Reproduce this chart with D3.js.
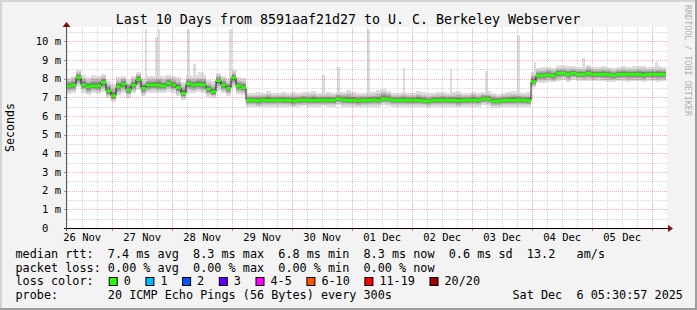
<!DOCTYPE html>
<html>
<head>
<meta charset="utf-8">
<script src="https://cdn.jsdelivr.net/npm/d3@7"></script>
<style>
  body { margin: 0; background: #fff; }
  svg { display: block; }
  text { font-family: "DejaVu Sans Mono", monospace; white-space: pre; }
</style>
</head>
<body>
<div id="graph"></div>
<script>
// ---- data ----
const title = "Last 10 Days from 8591aaf21d27 to U. C. Berkeley Webserver";
const startTime = Date.UTC(2025, 10, 26, 5, 30, 57);
const endTime = Date.UTC(2025, 11, 6, 5, 30, 57);
const stepHours = 2;

// median rtt per 2h step (ms)
const median = [
  7.60,7.66,8.07,7.66,7.57,7.62,7.62,7.80,7.34,7.09,
  7.57,7.71,7.39,7.66,7.96,7.48,7.66,7.66,7.66,7.62,
  7.75,7.66,7.52,7.21,7.73,7.66,7.70,7.66,7.44,7.30,
  7.90,7.66,7.48,8.05,7.62,7.52,
  6.84,6.84,6.82,6.86,6.84,6.84,6.86,6.84,6.84,6.82,
  6.84,6.86,6.84,6.84,6.84,6.86,6.84,6.84,6.93,6.86,
  6.84,6.84,6.82,6.84,6.84,6.86,6.84,6.93,6.90,6.84,
  6.84,6.86,6.84,6.84,6.84,6.82,6.79,6.84,6.84,6.86,
  6.84,6.84,6.82,6.84,6.84,6.86,6.84,6.93,6.90,6.80,
  6.80,6.84,6.84,6.84,6.86,6.84,6.82,
  7.84,
  8.16,8.18,8.20,8.16,8.29,8.29,8.23,8.29,8.23,8.23,
  8.29,8.23,8.23,8.23,8.23,8.18,8.23,8.23,8.23,8.23,
  8.23,8.20,8.23,8.23,8.23,8.23
];
// smoke extent above / below the median per step (ms)
const smokeUp = [
  0.45,0.50,0.40,0.55,0.50,0.60,0.55,0.45,0.55,0.60,
  0.50,0.45,0.55,0.50,0.40,0.55,0.50,0.50,0.55,0.50,
  0.45,0.50,0.55,0.60,0.45,0.50,0.50,0.55,0.50,0.55,
  0.40,0.50,0.55,0.40,0.45,0.50,
  0.40,0.42,0.45,0.40,0.50,0.42,0.40,0.45,0.42,0.48,
  0.40,0.42,0.45,0.50,0.42,0.40,0.45,0.42,0.38,0.45,
  0.55,0.45,0.42,0.40,0.45,0.42,0.55,0.50,0.45,0.40,
  0.42,0.45,0.40,0.42,0.50,0.45,0.42,0.40,0.45,0.42,
  0.40,0.45,0.50,0.42,0.40,0.45,0.40,0.38,0.42,0.45,
  0.40,0.42,0.45,0.50,0.42,0.40,0.45,
  0.50,
  0.40,0.42,0.45,0.40,0.38,0.42,0.45,0.40,0.42,0.40,
  0.45,0.42,0.40,0.45,0.42,0.40,0.42,0.45,0.40,0.42,
  0.45,0.50,0.42,0.40,0.45,0.42
];
const smokeDown = [
  0.40,0.45,0.50,0.40,0.45,0.40,0.45,0.50,0.40,0.35,
  0.45,0.50,0.40,0.45,0.55,0.40,0.45,0.40,0.45,0.40,
  0.45,0.40,0.45,0.35,0.50,0.45,0.40,0.45,0.40,0.35,
  0.55,0.45,0.40,0.50,0.45,0.40,
  0.35,0.34,0.36,0.35,0.33,0.35,0.36,0.34,0.35,0.36,
  0.35,0.34,0.35,0.36,0.35,0.34,0.33,0.35,0.36,0.35,
  0.34,0.35,0.36,0.35,0.34,0.35,0.36,0.35,0.34,0.35,
  0.36,0.35,0.34,0.35,0.36,0.35,0.34,0.35,0.36,0.35,
  0.34,0.35,0.36,0.35,0.34,0.35,0.36,0.35,0.34,0.35,
  0.36,0.35,0.34,0.35,0.36,0.35,0.34,
  0.30,
  0.38,0.40,0.38,0.36,0.40,0.38,0.40,0.38,0.36,0.38,
  0.40,0.38,0.36,0.38,0.40,0.38,0.38,0.36,0.40,0.38,
  0.38,0.40,0.36,0.38,0.40,0.38
];
// single slow pings: [hours after start, top in ms]
const spikes = [
  [31.5,10.66],[35.7,10.25],[36.7,10.66],[48.5,10.66],[50.8,8.77],
  [52.8,8.37],[54.0,8.37],[65.3,10.66],[67.5,8.46],[102.4,8.2],
  [108.5,8.64],[120.4,10.66],[134.7,8.55],[153.5,8.5],[167.7,8.41],
  [180.4,10.34],[187.0,8.9],[206.4,9.09],[226.4,8.7],[235.6,8.9]
];
const yMax = 10.77;
const yTicks = [0,1,2,3,4,5,6,7,8,9,10];

const legendRtt  = "median rtt:  7.4 ms avg  8.3 ms max  6.8 ms min  8.3 ms now  0.6 ms sd  13.2   am/s";
const legendLoss = "packet loss: 0.00 % avg  0.00 % max  0.00 % min  0.00 % now";
const lossLabels = ["0","1","2","3","4-5","6-10","11-19","20/20"];
const lossColors = ["#26ff00","#00b8ff","#0059ff","#5e00ff","#ff00ff","#ff5500","#ff0000","#a10000"];
const probeText = "probe:       20 ICMP Echo Pings (56 Bytes) every 300s";
const stampText = "Sat Dec  6 05:30:57 2025";

// ---- layout ----
const W = 697, H = 310;
const L = 66, R = 666, T = 27, B = 228;
const charW = 7.1;

const x = d3.scaleUtc().domain([new Date(startTime), new Date(endTime)]).range([L, R]);
const y = d3.scaleLinear().domain([0, yMax]).range([B, T]);
const stepT = i => new Date(startTime + i * stepHours * 3600e3);
const hourT = h => new Date(startTime + h * 3600e3);

const svg = d3.select("#graph").append("svg").attr("width", W).attr("height", H);

svg.append("rect").attr("width", W).attr("height", H).attr("fill", "#f3f3f3");
svg.append("path").attr("d", `M0,0H${W}V2H2V${H}H0Z`).attr("fill", "#d4d4d4");
svg.append("path").attr("d", `M${W},${H}H0V${H-2}H${W-2}V0H${W}Z`).attr("fill", "#9e9e9e");
svg.append("rect").attr("x", L).attr("y", T).attr("width", R - L + 1).attr("height", B - T).attr("fill", "#fff");

// ---- smoke ----
const frac = [0.03,0.08,0.14,0.2,0.27,0.35,0.45,0.57,0.72,1];
function ping(i, k) { // k = 1..20
  if (k > 10) return median[i] + smokeUp[i] * frac[k - 11];
  return median[i] - smokeDown[i] * frac[10 - k];
}
const grey = k => { const v = 50 + Math.floor(19 * Math.abs(10 - k)); return `rgb(${v},${v},${v})`; };
const smoke = svg.append("g").attr("shape-rendering", "crispEdges");
median.forEach((m, i) => {
  const x0 = x(stepT(i)), x1 = Math.min(x(stepT(i + 1)), R);
  // upper bands, outermost first
  for (let k = 19; k >= 10; k--) {
    smoke.append("rect").attr("x", x0).attr("width", x1 - x0)
      .attr("y", y(ping(i, k + 1))).attr("height", y(ping(i, 10)) - y(ping(i, k + 1)))
      .attr("fill", grey(k));
  }
  for (let k = 1; k <= 9; k++) {
    smoke.append("rect").attr("x", x0).attr("width", x1 - x0)
      .attr("y", y(ping(i, 10))).attr("height", y(ping(i, k)) - y(ping(i, 10)))
      .attr("fill", grey(k));
  }
});
const spikeStep = h => Math.floor(h / stepHours);
smoke.selectAll(".spike").data(spikes).enter().append("rect")
  .attr("x", d => x(hourT(d[0])))
  .attr("width", d => x(hourT(d[0] + 1)) - x(hourT(d[0])))
  .attr("y", d => y(Math.min(d[1], yMax)))
  .attr("height", d => y(ping(spikeStep(d[0]), 19)) - y(Math.min(d[1], yMax)))
  .attr("fill", grey(19));

// ---- median ----
const stepPts = median.map((m, i) => [stepT(i), m]).concat([[stepT(median.length), median[median.length - 1]]]);
svg.append("path")
  .attr("d", d3.line().x(d => Math.min(x(d[0]), R)).y(d => y(d[1])).curve(d3.curveStepAfter)(stepPts))
  .attr("fill", "none").attr("stroke", "#202020").attr("stroke-width", 1);
svg.append("g").selectAll("rect").data(median).enter().append("rect")
  .attr("x", (d, i) => x(stepT(i)))
  .attr("width", (d, i) => Math.min(x(stepT(i + 1)), R) - x(stepT(i)))
  .attr("y", d => y(d) - 1.5).attr("height", 3)
  .attr("fill", lossColors[0]);

// ---- grid (drawn over data like rrdtool) ----
const px = v => Math.round(v) + 0.5;
const grid = svg.append("g").attr("stroke-dasharray", "1,1").attr("stroke-width", 1);
const minorY = d3.range(0.5, yMax, 0.5).filter(v => v % 1 !== 0);
grid.selectAll(".gy").data(minorY).enter().append("line")
  .attr("x1", L).attr("x2", R + 1).attr("y1", d => px(y(d))).attr("y2", d => px(y(d)))
  .attr("stroke", "rgba(160,160,160,0.45)");
const sixHours = d3.utcHour.every(6).range(new Date(startTime), new Date(endTime)).filter(d => d.getUTCHours() !== 0);
grid.selectAll(".gx").data(sixHours).enter().append("line")
  .attr("y1", T).attr("y2", B).attr("x1", d => px(x(d))).attr("x2", d => px(x(d)))
  .attr("stroke", "rgba(160,160,160,0.45)");
grid.selectAll(".my").data(yTicks.filter(v => v > 0)).enter().append("line")
  .attr("x1", L).attr("x2", R + 1).attr("y1", d => px(y(d))).attr("y2", d => px(y(d)))
  .attr("stroke", "rgba(255,0,0,0.32)");
const days = d3.utcDay.range(new Date(startTime), new Date(endTime));
grid.selectAll(".mx").data(days).enter().append("line")
  .attr("y1", T).attr("y2", B).attr("x1", d => px(x(d))).attr("x2", d => px(x(d)))
  .attr("stroke", "rgba(255,0,0,0.32)");

// ---- axes ----
const ax = svg.append("g");
ax.selectAll(".tx").data(days).enter().append("line")
  .attr("x1", d => px(x(d))).attr("x2", d => px(x(d))).attr("y1", B).attr("y2", B + 3)
  .attr("stroke", "rgba(255,0,0,0.6)");
ax.selectAll(".ty").data(yTicks).enter().append("line")
  .attr("x1", L - 2).attr("x2", L).attr("y1", d => px(y(d))).attr("y2", d => px(y(d)))
  .attr("stroke", "#999");
ax.append("line").attr("x1", L - 2).attr("x2", R + 3).attr("y1", B + 0.5).attr("y2", B + 0.5).attr("stroke", "#000");
ax.append("line").attr("x1", L + 0.5).attr("x2", L + 0.5).attr("y1", B + 3).attr("y2", T - 1).attr("stroke", "#555");
ax.append("path").attr("d", `M${R + 2},${B - 3}L${R + 7},${B + 0.5}L${R + 2},${B + 4}Z`).attr("fill", "#7f1010");
ax.append("path").attr("d", `M${L - 3.5},${T}L${L + 0.5},${T - 5}L${L + 4.5},${T}Z`).attr("fill", "#7f1010");

ax.selectAll(".yl").data(yTicks).enter().append("text")
  .attr("x", d => d === 0 ? 61 - 2 * 6.32 : 61).attr("y", d => y(d) + 3.8)
  .attr("text-anchor", "end").attr("font-size", 10.5)
  .text(d => d === 0 ? "0" : `${d} m`);
const noons = days.map(d => d3.utcHour.offset(d, -12));
ax.selectAll(".xl").data(noons).enter().append("text")
  .attr("x", d => x(d)).attr("y", 241)
  .attr("text-anchor", "middle").attr("font-size", 10.5)
  .text(d => d3.utcFormat("%d %b")(d));

// ---- titles ----
svg.append("text").attr("x", 348).attr("y", 24).attr("text-anchor", "middle")
  .attr("font-size", 13.3).text(title);
svg.append("text").attr("transform", "translate(14,127.5) rotate(-90)")
  .attr("text-anchor", "middle").attr("font-size", 11.6).text("Seconds");
svg.append("text").attr("transform", "translate(684.5,5) rotate(90)")
  .attr("font-size", 8.4).attr("fill", "#b0b0b0").text("RRDTOOL / TOBI OETIKER");

// ---- legend ----
const lg = svg.append("g").attr("font-size", 11.8);
lg.append("text").attr("x", 15.5).attr("y", 258).text(legendRtt);
lg.append("text").attr("x", 15.5).attr("y", 271.7).text(legendLoss);
lg.append("text").attr("x", 15.5).attr("y", 285.3).text("loss color:");
lg.append("text").attr("x", 15.5).attr("y", 299).text(probeText);
lg.append("text").attr("x", 512.5).attr("y", 299).text(stampText);
let bx = 108.7;
lossLabels.forEach((lab, i) => {
  lg.append("rect").attr("x", bx + 0.5).attr("y", 277.5).attr("width", 8).attr("height", 8)
    .attr("fill", lossColors[i]).attr("stroke", "#000");
  lg.append("text").attr("x", bx + 15).attr("y", 285.3).text(lab);
  bx += 15 + lab.length * charW + 14.6;
});
</script>
</body>
</html>
